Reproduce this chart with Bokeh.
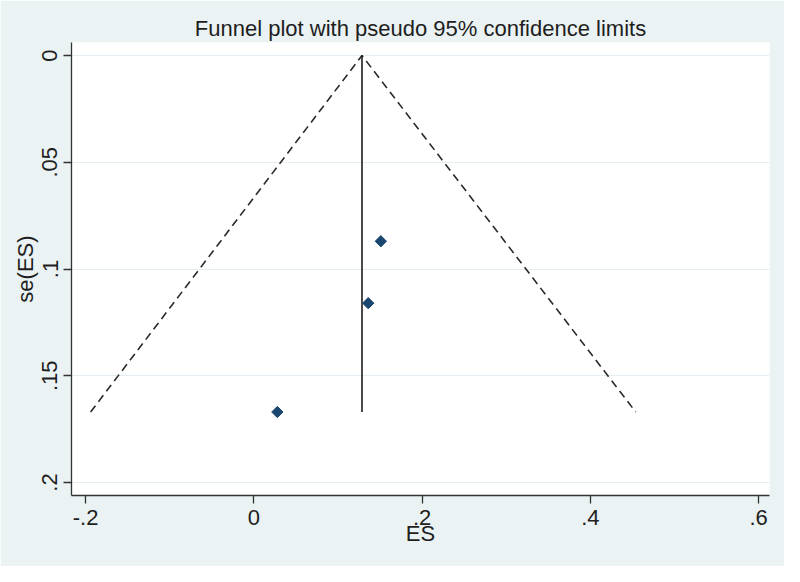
import math
from bokeh.plotting import figure
from bokeh.models import Range1d, FixedTicker, ColumnDataSource
from bokeh.embed import file_html
from bokeh.resources import INLINE

# ---- data ----
es = [0.151, 0.136, 0.028]
se = [0.087, 0.116, 0.167]
pooled_es = 0.1286
funnel_x = [-0.194, 0.1286, 0.454]
funnel_se = [0.167, 0.0, 0.167]
line_x = [0.1286, 0.1286]
line_se = [0.0, 0.167]

x_ticks = [-0.2, 0.0, 0.2, 0.4, 0.6]
x_labels = ["-.2", "0", ".2", ".4", ".6"]
y_ticks = [0.0, 0.05, 0.1, 0.15, 0.2]
y_labels = ["0", ".05", ".1", ".15", ".2"]

BG = "#eaf2f3"
TXT = "#1e1e1e"
FONT = "Liberation Sans"

p = figure(width=784, height=566, output_backend="svg", toolbar_location=None,
           x_range=Range1d(-0.2167, 0.613), y_range=Range1d(0.2061, -0.0061),
           title="Funnel plot with pseudo 95% confidence limits",
           min_border_left=71, min_border_right=15, min_border_top=42, min_border_bottom=71)

p.border_fill_color = BG
p.background_fill_color = "white"
p.outline_line_color = None

p.title.align = "center"
p.title.text_font = FONT
p.title.text_font_size = "22px"
p.title.text_font_style = "normal"
p.title.text_color = TXT
p.title.standoff = 3

# grid
p.xgrid.grid_line_color = None
p.ygrid.grid_line_color = "#e4eef2"
p.ygrid.grid_line_width = 1.2

# axes
for ax in (p.xaxis[0], p.yaxis[0]):
    ax.axis_line_color = "#333333"
    ax.axis_line_width = 1.3
    ax.major_tick_line_color = "#333333"
    ax.major_tick_line_width = 1.3
    ax.major_tick_out = 8
    ax.major_tick_in = 0
    ax.minor_tick_line_color = None
    ax.major_label_text_font = FONT
    ax.major_label_text_font_size = "22px"
    ax.major_label_text_color = TXT
    ax.axis_label_text_font = FONT
    ax.axis_label_text_font_size = "22px"
    ax.axis_label_text_font_style = "normal"
    ax.axis_label_text_color = TXT

p.xaxis.ticker = FixedTicker(ticks=x_ticks)
p.xaxis.major_label_overrides = dict(zip(x_ticks, x_labels))
p.xaxis.axis_label = "ES"
p.xaxis.major_label_standoff = 6
p.xaxis.axis_label_standoff = -7

p.yaxis.ticker = FixedTicker(ticks=y_ticks)
p.yaxis.major_label_overrides = dict(zip(y_ticks, y_labels))
p.yaxis.major_label_orientation = "vertical"
p.yaxis.axis_label = "se(ES)"
p.yaxis.major_label_standoff = 6
p.yaxis.axis_label_standoff = 2

# funnel lines
p.line(funnel_x, funnel_se, line_color="#2a2a2a", line_width=1.6, line_dash="8 5")
p.line(line_x, line_se, line_color="#1e1e1e", line_width=1.6)

# study points
src = ColumnDataSource(dict(x=es, y=se))
p.scatter("x", "y", source=src, marker="square", angle=math.pi / 4, size=8,
          fill_color="#1a476f", line_color="#1a476f")

open("out.html", "w").write(file_html(p, INLINE))
